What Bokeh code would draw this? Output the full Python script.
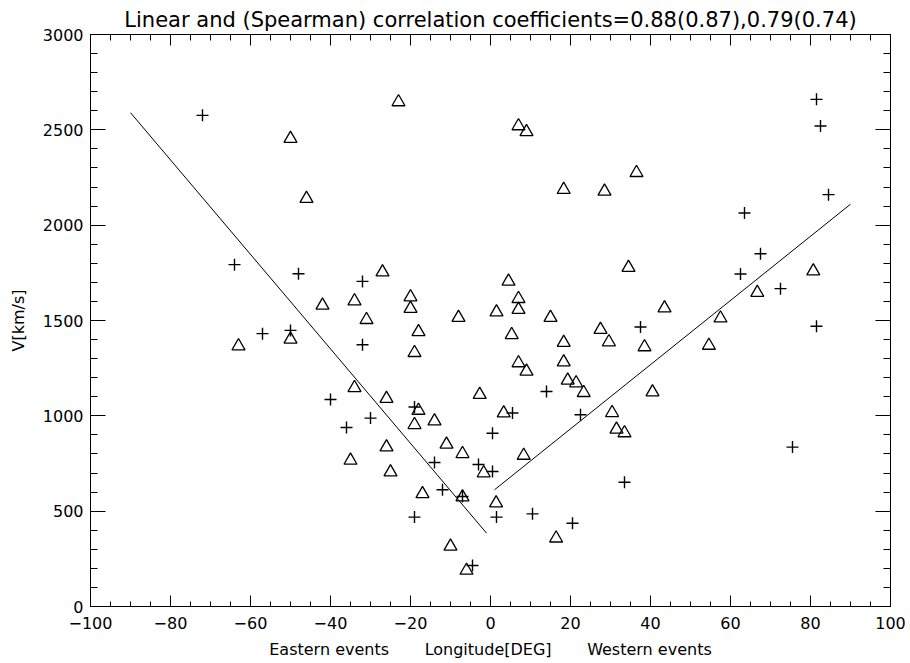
from bokeh.plotting import figure
from bokeh.models import LinearAxis, FixedTicker, Range1d, ColumnDataSource
from bokeh.embed import file_html
from bokeh.resources import INLINE

# ---- data ----
plus_lon = [-72, -64, -48, -57, -50, -40, -36, -32, -32, -30, -19, -14, -12, -7, -19, -3,
            0.5, 0.5, 1.5, 5.5, 10.5, -4.5, 14, 22.5, 20.5, 33.5, 37.5, 81.5, 82.5, 84.5,
            63.5, 67.5, 62.5, 72.5, 81.5, 75.5]
plus_v = [2576, 1793, 1745, 1431, 1448, 1086, 939, 1705, 1373, 988, 1046, 755, 612, 577, 469, 745,
          708, 909, 469, 1015, 486, 215, 1128, 1006, 437, 652, 1466, 2660, 2520, 2160,
          2064, 1850, 1744, 1667, 1470, 836]

tri_lon = [-50, -46, -42, -63, -50, -35, -23, 7, 9, -27, -34, -20, -20, -31, -8, 4.5,
           7, 7, 1.5, 15, -18, 5.3, -19, 7, 9, -34, -26, -2.7, -18, -19, -14, 3.3,
           -26, -11, -7, -25, -1.7, 8.3, -17, -7, 1.4, -10, -6, 36.5, 18.3, 28.5,
           34.5, 43.5, 27.5, 57.5, 18.3, 29.6, 38.5, 54.6, 18.3, 19.3, 21.4, 23.3, 40.5,
           30.4, 31.5, 33.5, 16.4, 80.7, 66.7]
tri_v = [2454, 2139, 1579, 1366, 1401, 766, 2646, 2520, 2489, 1754, 1602, 1623, 1562, 1504, 1515, 1705,
         1614, 1557, 1544, 1515, 1440, 1425, 1331, 1277, 1233, 1147, 1090, 1111, 1028, 953, 972, 1014,
         836, 850, 801, 705, 700, 792, 591, 574, 542, 315, 189, 2275, 2186, 2177,
         1777, 1565, 1452, 1512, 1384, 1387, 1361, 1369, 1282, 1186, 1172, 1121, 1124,
         1016, 929, 910, 358, 1759, 1646]

east_fit_lon = [-90, -1]
east_fit_v = [2590, 385]
west_fit_lon = [1, 90]
west_fit_v = [612, 2110]

x_ticks = [-100, -80, -60, -40, -20, 0, 20, 40, 60, 80, 100]
x_tick_labels = ["\u2212100", "\u221280", "\u221260", "\u221240", "\u221220", "0", "20", "40", "60", "80", "100"]
y_ticks = [0, 500, 1000, 1500, 2000, 2500, 3000]
y_tick_labels = ["0", "500", "1000", "1500", "2000", "2500", "3000"]

title_text = "Linear and (Spearman) correlation coefficients=0.88(0.87),0.79(0.74)"
x_title = "Eastern events" + "\u00a0" * 7 + "Longitude[DEG]" + "\u00a0" * 7 + "Western events"
y_title = "V[km/s]"

FONT = "DejaVu Sans"

p = figure(width=910, height=663, x_range=Range1d(-100, 100), y_range=Range1d(0, 3000),
           output_backend="svg", toolbar_location=None,
           x_axis_location=None, y_axis_location=None,
           min_border_left=90, min_border_right=20, min_border_top=34, min_border_bottom=57,
           title=title_text)
p.grid.visible = False
p.outline_line_color = "black"
p.outline_line_width = 1
p.background_fill_color = "white"
p.border_fill_color = "white"

p.title.align = "center"
p.title.text_font = FONT
p.title.text_font_size = "21px"
p.title.text_font_style = "normal"
p.title.text_color = "black"
p.title.standoff = 5

x_minor = [v for v in range(-100, 101, 5)]
y_minor = [v for v in range(0, 3001, 100)]


def make_axis(ticks, minor, labels, tick_in, minor_in, show):
    ax = LinearAxis(ticker=FixedTicker(ticks=ticks, minor_ticks=minor),
                    major_tick_in=tick_in, major_tick_out=0,
                    minor_tick_in=minor_in, minor_tick_out=0,
                    axis_line_color="black", major_tick_line_color="black",
                    minor_tick_line_color="black")
    if show:
        ax.major_label_overrides = {t: l for t, l in zip(ticks, labels)}
        ax.major_label_text_font = FONT
        ax.major_label_text_font_size = "16px"
        ax.major_label_text_color = "black"
    else:
        ax.major_label_overrides = {t: "" for t in ticks}
        ax.major_label_standoff = 0
        ax.major_label_text_font_size = "1px"
    return ax


bottom = make_axis(x_ticks, x_minor, x_tick_labels, 11, 5, True)
bottom.major_label_standoff = 10
bottom.axis_label = x_title
bottom.axis_label_text_font = FONT
bottom.axis_label_text_font_size = "16px"
bottom.axis_label_text_font_style = "normal"
bottom.axis_label_text_color = "black"
bottom.axis_label_standoff = 8
p.add_layout(bottom, "below")

top = make_axis(x_ticks, x_minor, x_tick_labels, 11, 6, False)
p.add_layout(top, "above")

left = make_axis(y_ticks, y_minor, y_tick_labels, 15, 7, True)
left.major_label_standoff = 7
left.axis_label = y_title
left.axis_label_text_font = FONT
left.axis_label_text_font_size = "16px"
left.axis_label_text_font_style = "normal"
left.axis_label_text_color = "black"
left.axis_label_standoff = 12
p.add_layout(left, "left")

right = make_axis(y_ticks, y_minor, y_tick_labels, 15, 7, False)
p.add_layout(right, "right")

plus_src = ColumnDataSource(dict(x=plus_lon, y=plus_v))
tri_src = ColumnDataSource(dict(x=tri_lon, y=tri_v))

p.scatter("x", "y", source=plus_src, marker="cross", size=12, line_color="black", line_width=1.4)
p.scatter("x", "y", source=tri_src, marker="triangle", size=13, line_color="black", line_width=1.3,
          fill_color=None)

p.line(east_fit_lon, east_fit_v, line_color="black", line_width=1)
p.line(west_fit_lon, west_fit_v, line_color="black", line_width=1)

open("out.html", "w").write(file_html(p, INLINE))
